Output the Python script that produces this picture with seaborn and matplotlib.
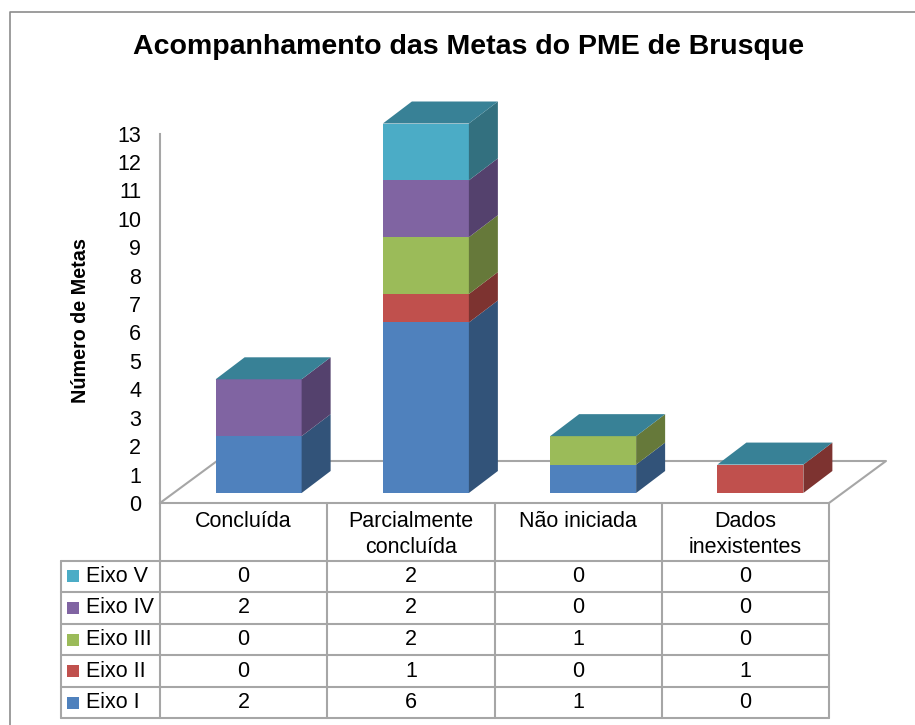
import matplotlib
matplotlib.use("Agg")
import matplotlib.pyplot as plt
import seaborn as sns
import numpy as np
from matplotlib.lines import Line2D

categories = ["Concluída", "Parcialmente\nconcluída", "Não iniciada", "Dados\ninexistentes"]
series_names = ["Eixo I", "Eixo II", "Eixo III", "Eixo IV", "Eixo V"]
eixo_1 = [2, 6, 1, 0]
eixo_2 = [0, 1, 0, 1]
eixo_3 = [0, 2, 1, 0]
eixo_4 = [2, 2, 0, 0]
eixo_5 = [0, 2, 0, 0]

front_colors = ["#4F81BD", "#C0504D", "#9BBB59", "#8064A2", "#4BACC6"]
side_colors = ["#325379", "#7D3330", "#66793A", "#54416D", "#33707F"]
top_color = "#388196"
grid_color = "#A6A6A6"

W, H = 915, 725
sns.set_theme(style="white")
plt.rcParams["font.family"] = ["Liberation Sans", "DejaVu Sans"]


def px_axes(fig, left, top, right, bottom):
    # axes placed by pixel box of the reference
    ax = fig.add_axes([left / W, 1 - bottom / H, (right - left) / W, (bottom - top) / H])
    ax.patch.set_alpha(0)
    return ax


fig = plt.figure(figsize=(W / 100, H / 100), dpi=100, facecolor="white")

# outer frame, only left and top show in the crop
fig.add_artist(Line2D([10 / W, 10 / W, 1], [0, 1 - 12 / H, 1 - 12 / H], color="#8C8C8C", lw=1.2))
fig.text(469 / W, 1 - 47.5 / H, "Acompanhamento das Metas do PME de Brusque",
         ha="center", va="center", fontsize=20.5, fontweight="bold", color="black")

col_w = 167.25
y_px = 369.5 / 13

# wall and floor
ax_wall = px_axes(fig, 160, 133.5, 829, 503)
ax_wall.set_xlim(-0.5, 3.5)
ax_wall.set_ylim(0, 13)
ax_wall.set_xticks([])
ax_wall.set_yticks(range(14))
ax_wall.tick_params(axis="y", length=0, pad=13.5, labelsize=15.5, labelcolor="black")
for name, spine in ax_wall.spines.items():
    spine.set_visible(name == "left")
    spine.set_color(grid_color)
    spine.set_linewidth(1.5)
ax_wall.set_ylabel("Número de Metas", fontsize=14.2, fontweight="bold", color="black", va="center")
ax_wall.yaxis.set_label_coords((80 - 160) / 669, (503 - 321) / 369.5)

floor_dx = 57 / col_w
floor_dy = 42 / y_px
ax_wall.plot([-0.5, -0.5 + floor_dx, 3.5 + floor_dx, 3.5],
             [0, floor_dy, floor_dy, 0], color=grid_color, lw=1.5, clip_on=False)

# bars sit a little inside the floor, same scale as the wall
ax_bars = px_axes(fig, 160 + 15, 123.5, 829 + 15, 493)
values = np.array([eixo_1, eixo_2, eixo_3, eixo_4, eixo_5], dtype=float)
bar_w = 86 / col_w
dx = 29 / col_w
dy = 22 / y_px

bottoms = np.zeros(len(categories))
for i, vals in enumerate(values):
    sns.barplot(x=categories, y=vals, bottom=bottoms, color=front_colors[i], saturation=1,
                width=bar_w, linewidth=0, ax=ax_bars)
    for j, v in enumerate(vals):
        if v > 0:
            xr = j + bar_w / 2
            ax_bars.fill([xr, xr + dx, xr + dx, xr],
                         [bottoms[j], bottoms[j] + dy, bottoms[j] + v + dy, bottoms[j] + v],
                         color=side_colors[i], lw=0, clip_on=False)
    bottoms = bottoms + vals
for j, total in enumerate(bottoms):
    xl = j - bar_w / 2
    ax_bars.fill([xl, xl + bar_w, xl + bar_w + dx, xl + dx],
                 [total, total, total + dy, total + dy], color=top_color, lw=0, clip_on=False)
for patch in ax_bars.patches:
    patch.set_clip_on(False)
ax_bars.set_xlim(-0.5, 3.5)
ax_bars.set_ylim(0, 13)
ax_bars.axis("off")

# data table under the chart
ax_table = px_axes(fig, 61, 503, 829, 718.3)
n_rows = len(series_names)
header_h = 57.7 / 31.5
left_x = -0.5 - 99 / col_w
ax_table.set_xlim(left_x, 3.5)
ax_table.set_ylim(-0.5, n_rows - 0.5 + header_h)
ax_table.axis("off")
line_kw = dict(color=grid_color, lw=1.5, clip_on=False)
for k in range(n_rows + 1):
    ax_table.plot([left_x, 3.5], [k - 0.5, k - 0.5], **line_kw)
ax_table.plot([-0.5, 3.5], [n_rows - 0.5 + header_h] * 2, **line_kw)
ax_table.plot([left_x, left_x], [-0.5, n_rows - 0.5], **line_kw)
for c in range(5):
    ax_table.plot([c - 0.5, c - 0.5], [-0.5, n_rows - 0.5 + header_h], **line_kw)

for c, label in enumerate(categories):
    ax_table.text(c, n_rows - 0.5 + header_h - 7.5 / 31.5, label, ha="center", va="top",
                  fontsize=15.5, color="black", linespacing=1.33)
for r, name in enumerate(series_names):
    ax_table.scatter([left_x + 12.5 / col_w], [r], marker="s", s=70, color=front_colors[r], lw=0, clip_on=False)
    ax_table.text(left_x + 25 / col_w, r, name, ha="left", va="center", fontsize=15.5, color="black")
    for c, v in enumerate(values[r]):
        ax_table.text(c, r, str(int(v)), ha="center", va="center", fontsize=15.5, color="black")

fig.savefig("out.png", dpi=100)
